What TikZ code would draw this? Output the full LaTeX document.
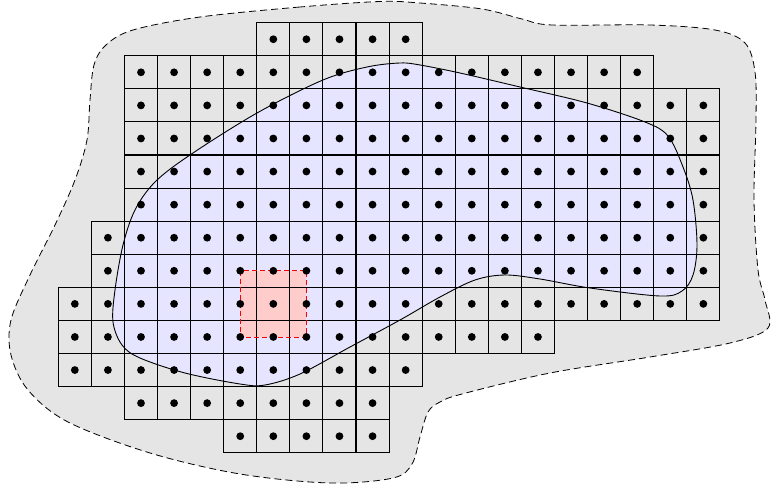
\documentclass[tikz,border=0pt]{standalone}
\usetikzlibrary{calc}
\definecolor{blobgray}{HTML}{E5E5E5}
\definecolor{regionblue}{HTML}{E5E5FF}
\definecolor{patchred}{HTML}{FFCCCC}
\tikzset{
  blob/.style={fill=blobgray, draw=black, line width=0.8pt, dash pattern=on 7pt off 4pt},
  region/.style={draw=black, line width=0.9pt},
  cellbox/.style={draw=black, line width=1.05pt},
  patch/.style={draw=red, line width=0.8pt, dash pattern=on 5pt off 3pt},
  dotmark/.style={fill=black}
}
\begin{document}
\begin{tikzpicture}[x=1pt,y=-1pt]
\useasboundingbox (0,0) rectangle (771,489);
% outer dashed blob
\draw[blob] plot[smooth cycle, tension=0.55] coordinates {
 (380,1.5) (300,7) (200,17) (133,30) (106,45) (94,65) (90,100) (87,140)
 (75,180) (55,225) (30,275) (11,320) (11,355) (28,390) (68,422) (150,453)
 (240,474) (330,483) (393,478) (412,464) (420,437) (428,412) (440,402)
 (462,394) (550,373) (650,357) (730,343) (768,328) (765,300) (758,270)
 (754,200) (756,120) (755,72) (745,43) (715,30) (650,25) (552,25)
 (522,19) (482,9) (420,3)};
% blue region fill
\fill[regionblue] plot[smooth cycle, tension=0.55] coordinates {
 (400,63) (367,67) (323,80) (257,113) (190,155) (155,182) (135,210)
 (123,245) (115,290) (113,322) (122,345) (140,358) (185,373) (240,384)
 (265,385) (300,374) (350,347) (400,320) (440,297) (475,280) (505,275)
 (540,279) (590,288) (660,296) (682,291) (693,275) (697,245) (693,200)
 (683,167) (668,136) (645,122) (587,103) (520,87) (460,73) (420,65)};
% red patch fill
\fill[patchred] ({58.3+5.5*33.08},{22.7+7.5*33.08}) rectangle ({58.3+7.5*33.08},{22.7+9.5*33.08});
% grid cells
\foreach \r/\a/\b in {0/6/10, 1/2/17, 2/2/19, 3/2/19, 4/2/19, 5/2/19, 6/1/19, 7/1/19, 8/0/19, 9/0/14, 10/0/10, 11/2/9, 12/5/9}{
  \foreach \c in {\a,...,\b}{
    \draw[cellbox] ({58.3+\c*33.08},{22.7+\r*33.08}) rectangle ++(33.08,33.08);
  }
}
% blue region outline
\draw[region] plot[smooth cycle, tension=0.55] coordinates {
 (400,63) (367,67) (323,80) (257,113) (190,155) (155,182) (135,210)
 (123,245) (115,290) (113,322) (122,345) (140,358) (185,373) (240,384)
 (265,385) (300,374) (350,347) (400,320) (440,297) (475,280) (505,275)
 (540,279) (590,288) (660,296) (682,291) (693,275) (697,245) (693,200)
 (683,167) (668,136) (645,122) (587,103) (520,87) (460,73) (420,65)};
% red patch outline
\draw[patch] ({58.3+5.5*33.08},{22.7+7.5*33.08}) rectangle ({58.3+7.5*33.08},{22.7+9.5*33.08});
% dots
\foreach \r/\a/\b in {0/6/10, 1/2/17, 2/2/19, 3/2/19, 4/2/19, 5/2/19, 6/1/19, 7/1/19, 8/0/19, 9/0/14, 10/0/10, 11/2/9, 12/5/9}{
  \foreach \c in {\a,...,\b}{
    \fill[dotmark] ({58.3+(\c+0.5)*33.08},{22.7+(\r+0.5)*33.08}) circle[radius=3.9pt];
  }
}
\end{tikzpicture}
\end{document}
